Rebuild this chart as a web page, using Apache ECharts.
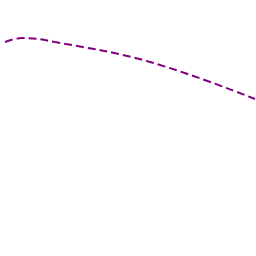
<!DOCTYPE html>
<html><head><meta charset="utf-8">
<script src="https://cdn.jsdelivr.net/npm/echarts@6/dist/echarts.min.js"></script>
<style>html,body{margin:0;padding:0;background:#fff}#c{width:256px;height:256px}</style>
</head><body><div id="c"></div>
<script>
const xValues = [5, 22, 55, 150, 255];
const yValues = [42, 38, 42, 62, 99];
const chart = echarts.init(document.getElementById('c'));
chart.setOption({
  animation: false,
  grid: {left: 0, right: 0, top: 0, bottom: 0},
  xAxis: {type: 'value', min: 0, max: 256, show: false},
  yAxis: {type: 'value', min: 0, max: 256, inverse: true, show: false},
  series: [{
    type: 'line',
    data: xValues.map((x, i) => [x, yValues[i]]),
    smooth: 0.4,
    showSymbol: false,
    lineStyle: {color: '#800080', width: 2, type: 'dashed'}
  }]
});
</script></body></html>
